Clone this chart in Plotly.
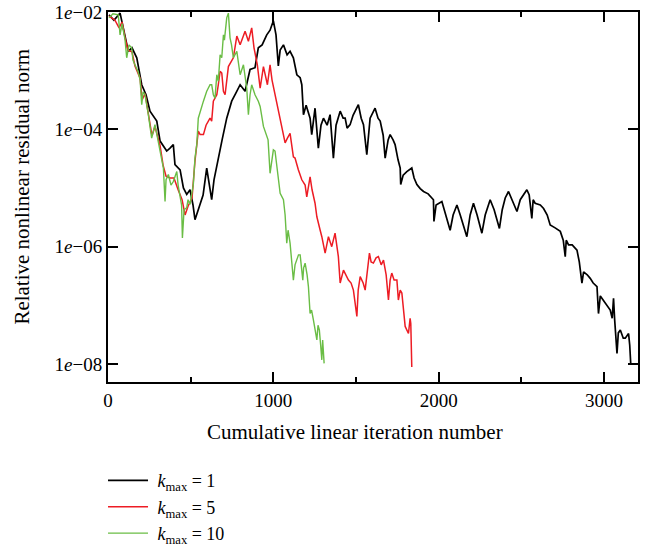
import numpy as np
import plotly.graph_objects as go

# ---- data: cumulative linear iteration vs log10(relative nonlinear residual norm)
k1_iter = [6, 36, 73, 97, 123, 145, 174, 204, 230, 254, 295, 315, 355, 375, 395, 405, 436, 456, 476, 496,
           514, 526, 557, 575, 597, 611, 627, 641, 658, 678, 690, 718, 732, 748, 774, 799, 829, 859, 889, 909,
           932, 960, 980, 1000, 1016, 1030, 1041, 1061, 1083, 1101, 1121, 1142, 1162, 1172, 1182, 1198, 1222, 1232, 1252, 1272,
           1288, 1303, 1325, 1343, 1363, 1379, 1404, 1422, 1434, 1446, 1464, 1482, 1514, 1531, 1545, 1565, 1585, 1615, 1633, 1646,
           1664, 1676, 1694, 1706, 1724, 1736, 1754, 1767, 1770, 1785, 1807, 1837, 1851, 1868, 1888, 1908, 1936, 1968, 1971, 1984,
           2019, 2039, 2069, 2087, 2110, 2130, 2148, 2170, 2190, 2210, 2232, 2261, 2281, 2311, 2335, 2367, 2384, 2402, 2422, 2444,
           2473, 2493, 2511, 2533, 2547, 2563, 2571, 2583, 2614, 2634, 2656, 2674, 2704, 2735, 2753, 2765, 2771, 2785, 2807, 2836,
           2850, 2866, 2876, 2898, 2916, 2934, 2957, 2966, 2977, 2995, 3013, 3037, 3049, 3057, 3064, 3078, 3086, 3098, 3116, 3128,
           3148, 3155, 3161]
k1_log_res = [-2.05, -2.14, -2.02, -2.31, -2.67, -2.61, -2.78, -3.24, -3.41, -3.69, -3.86, -4.20, -4.37, -4.32, -4.26, -4.60, -4.69, -5.00, -5.11, -5.03,
              -5.29, -5.54, -5.28, -5.12, -4.66, -4.95, -5.20, -4.86, -4.60, -4.35, -4.18, -3.81, -3.67, -3.52, -3.38, -3.24, -3.35, -2.98, -2.95, -2.61,
              -2.56, -2.39, -2.31, -2.15, -2.39, -2.92, -2.65, -2.56, -2.73, -2.67, -2.78, -3.07, -3.12, -3.24, -3.75, -3.59, -3.81, -4.09, -3.64, -4.32,
              -3.93, -3.81, -3.93, -3.75, -4.49, -3.93, -3.69, -3.81, -3.81, -3.98, -3.92, -3.76, -3.58, -3.81, -3.92, -4.43, -3.81, -3.64, -3.81, -3.86,
              -4.10, -4.49, -4.18, -4.09, -4.18, -4.26, -4.52, -4.66, -4.94, -4.78, -4.72, -4.66, -4.83, -4.94, -5.01, -5.06, -5.10, -5.20, -5.57, -5.29,
              -5.23, -5.41, -5.72, -5.46, -5.29, -5.46, -5.61, -5.83, -5.46, -5.26, -5.46, -5.77, -5.46, -5.20, -5.37, -5.69, -5.37, -5.17, -5.06, -5.20,
              -5.40, -5.20, -5.12, -5.03, -5.12, -5.52, -5.20, -5.26, -5.29, -5.35, -5.46, -5.63, -5.68, -5.74, -5.89, -6.17, -5.89, -5.97, -5.97, -6.06,
              -6.26, -6.62, -6.43, -6.48, -6.54, -6.62, -6.68, -7.14, -6.84, -6.91, -6.99, -7.08, -7.22, -6.88, -7.25, -7.82, -7.47, -7.42, -7.56, -7.56,
              -7.48, -7.68, -7.99]

k5_iter = [6, 42, 67, 85, 103, 121, 145, 163, 194, 206, 224, 242, 266, 284, 315, 333, 351, 375, 399, 424,
           448, 466, 484, 508, 526, 546, 557, 577, 593, 617, 627, 637, 658, 667, 678, 688, 698, 708, 728, 758,
           779, 799, 829, 849, 869, 883, 903, 920, 940, 964, 980, 992, 1010, 1030, 1041, 1061, 1071, 1085, 1101, 1121,
           1131, 1151, 1172, 1192, 1202, 1222, 1234, 1252, 1263, 1283, 1293, 1313, 1333, 1353, 1373, 1393, 1404, 1424, 1440, 1454,
           1470, 1484, 1505, 1513, 1525, 1543, 1555, 1567, 1581, 1591, 1605, 1621, 1635, 1652, 1666, 1682, 1696, 1706, 1716, 1730,
           1747, 1756, 1767, 1777, 1785, 1797, 1817, 1827, 1831, 1833, 1837]
k5_log_res = [-2.07, -2.14, -2.27, -2.17, -2.44, -2.65, -2.68, -2.92, -3.13, -3.50, -3.39, -3.70, -4.11, -3.95, -4.28, -4.61, -4.80, -4.83, -4.83, -5.03,
              -5.20, -5.46, -5.31, -5.17, -4.54, -4.03, -4.09, -4.09, -3.93, -3.81, -3.86, -3.52, -3.41, -3.24, -3.01, -3.04, -3.35, -3.41, -2.93, -2.78,
              -2.41, -2.56, -2.33, -2.50, -2.27, -2.61, -2.90, -3.30, -2.93, -3.24, -2.90, -3.16, -3.41, -3.64, -3.84, -4.09, -4.23, -4.15, -4.07, -4.47,
              -4.49, -4.69, -4.86, -4.95, -5.15, -4.81, -5.03, -5.26, -5.49, -5.72, -5.83, -6.11, -5.83, -6.00, -5.77, -6.17, -6.62, -6.40, -6.48, -6.57,
              -6.62, -6.74, -7.19, -6.74, -6.51, -6.62, -6.74, -6.40, -6.11, -6.26, -6.28, -6.19, -6.17, -6.31, -6.23, -6.48, -6.91, -6.57, -6.45, -6.57,
              -6.57, -6.91, -6.74, -6.79, -7.08, -7.36, -7.48, -7.22, -7.31, -7.68, -8.05]

k10_iter = [6, 30, 62, 73, 85, 103, 113, 127, 143, 151, 163, 182, 194, 204, 212, 224, 244, 254, 264, 284,
            296, 315, 335, 345, 351, 365, 381, 395, 416, 424, 436, 445, 450, 460, 476, 484, 496, 516, 526, 537,
            546, 567, 577, 597, 617, 627, 637, 647, 658, 667, 678, 688, 698, 704, 718, 728, 738, 747, 758, 779,
            799, 819, 839, 849, 859, 869, 889, 909, 920, 940, 960, 968, 980, 990, 1000, 1010, 1021, 1028, 1041, 1061,
            1071, 1081, 1089, 1101, 1110, 1121, 1131, 1141, 1152, 1162, 1178, 1183, 1192, 1204, 1212, 1222, 1231, 1242, 1252, 1263,
            1270, 1278, 1286, 1293, 1298, 1307]
k10_log_res = [-2.10, -2.03, -2.05, -2.39, -2.20, -2.47, -2.78, -2.56, -2.61, -2.82, -2.90, -3.02, -3.15, -3.58, -3.36, -3.41, -3.75, -3.93, -4.15, -3.92,
               -4.10, -4.32, -4.66, -5.23, -4.86, -4.77, -4.95, -4.89, -4.72, -4.95, -5.11, -5.29, -5.85, -5.37, -5.34, -5.20, -5.28, -4.94, -4.49, -4.26,
               -3.81, -3.64, -3.52, -3.35, -3.24, -3.24, -3.41, -3.47, -3.07, -3.18, -2.73, -2.78, -2.39, -2.48, -2.10, -2.02, -2.44, -2.56, -2.78, -2.67,
               -3.07, -2.90, -3.30, -3.75, -3.41, -3.24, -3.41, -3.52, -3.61, -3.95, -4.13, -4.18, -4.75, -4.52, -4.35, -4.37, -4.64, -4.78, -5.09, -5.20,
               -5.46, -5.94, -5.72, -5.94, -6.23, -6.57, -6.31, -6.23, -6.14, -6.14, -6.57, -6.36, -6.28, -6.48, -6.68, -7.14, -7.08, -7.25, -7.42, -7.59,
               -7.34, -7.42, -7.68, -7.93, -7.59, -7.99]

series_names = ["\u00a0<i>k</i><sub>max</sub> = 1", "\u00a0<i>k</i><sub>max</sub> = 5", "\u00a0<i>k</i><sub>max</sub> = 10"]
series_colors = ["#000000", "#ED1C24", "#6ABD45"]
series_widths = [1.7, 1.5, 1.4]

y_tick_vals = [1e-8, 1e-6, 1e-4, 1e-2]
y_tick_text = ["1<i>e</i>\u221208", "1<i>e</i>\u221206", "1<i>e</i>\u221204", "1<i>e</i>\u221202"]
x_tick_vals = [0, 1000, 2000, 3000]
x_minor_vals = [500, 1500, 2500]

FONT = "Liberation Serif, Times New Roman, serif"

fig = go.Figure()
for xs, ls, name, col, w in [(k1_iter, k1_log_res, series_names[0], series_colors[0], series_widths[0]),
                             (k5_iter, k5_log_res, series_names[1], series_colors[1], series_widths[1]),
                             (k10_iter, k10_log_res, series_names[2], series_colors[2], series_widths[2])]:
    fig.add_trace(go.Scatter(x=xs, y=10 ** np.array(ls), mode="lines", name=name,
                             line=dict(color=col, width=w)))

fig.update_layout(
    template="none",
    width=645, height=548,
    margin=dict(l=108, r=7, t=12, b=166, autoexpand=False),
    paper_bgcolor="white", plot_bgcolor="white",
    font=dict(family=FONT, size=19, color="black"),
    showlegend=True,
    legend=dict(x=-0.0094, y=-0.2166, xanchor="left", yanchor="top", bgcolor="rgba(0,0,0,0)",
                font=dict(family=FONT, size=18), tracegroupgap=0, itemwidth=40, borderwidth=0),
)
fig.update_xaxes(range=[0, 3205], showline=True, linecolor="black", linewidth=2, mirror="allticks",
                 ticks="inside", ticklen=10, tickwidth=1.5, tickcolor="black", automargin=False,
                 tickvals=x_tick_vals, ticktext=[str(v) for v in x_tick_vals],
                 minor=dict(tickvals=x_minor_vals, ticks="inside", ticklen=5, tickwidth=1.5, tickcolor="black"),
                 showgrid=False, zeroline=False, tickfont=dict(family=FONT, size=19))
fig.update_yaxes(type="log", range=[-8.307, -2], showline=True, linecolor="black", linewidth=2, mirror="allticks",
                 ticks="inside", ticklen=10, tickwidth=1.5, tickcolor="black", automargin=False,
                 tickvals=y_tick_vals, ticktext=y_tick_text, ticklabeloverflow="allow",
                 showgrid=False, zeroline=False, tickfont=dict(family=FONT, size=19))

fig.add_annotation(text="Cumulative linear iteration number", xref="paper", yref="paper",
                   x=0.466, y=-0.135, xanchor="center", yanchor="middle",
                   showarrow=False, font=dict(family=FONT, size=21))
fig.add_annotation(text="Relative nonlinear residual norm", xref="paper", yref="paper",
                   x=-0.1623, y=0.528, xanchor="center", yanchor="middle",
                   textangle=-90, showarrow=False, font=dict(family=FONT, size=21))

# remove the default 8px page margin so the figure sits at the window's corner
fig.write_html("out.html", config={"displayModeBar": False},
               post_script="document.body.style.margin='0';")
